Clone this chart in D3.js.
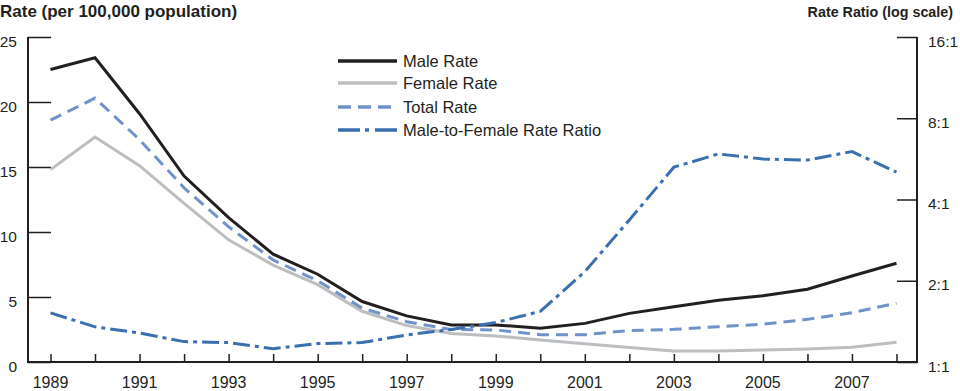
<!DOCTYPE html>
<html>
<head>
<meta charset="utf-8">
<script src="https://cdn.jsdelivr.net/npm/d3@7"></script>
<style>
  body { margin: 0; background: #fff; }
  svg { display: block; font-family: "Liberation Sans", Arial, sans-serif; }
</style>
</head>
<body>
<svg id="chart" width="960" height="391"></svg>
<script>
// data
var years = d3.range(1989, 2009)
var maleRate   = [22.5, 23.4, 19.1, 14.3, 11.1, 8.3, 6.75, 4.65, 3.55, 2.85, 2.85, 2.6, 2.97, 3.74, 4.25, 4.75, 5.1, 5.6, 6.62, 7.6]
var femaleRate = [14.8, 17.3, 15.1, 12.2, 9.4, 7.45, 5.95, 3.9, 2.8, 2.2, 2.0, 1.7, 1.4, 1.12, 0.85, 0.85, 0.92, 1.0, 1.13, 1.52]
var totalRate  = [18.6, 20.3, 17.1, 13.4, 10.4, 7.85, 6.25, 4.15, 3.1, 2.5, 2.46, 2.1, 2.1, 2.42, 2.51, 2.72, 2.9, 3.28, 3.79, 4.52]
var rateRatio  = [1.52, 1.35, 1.28, 1.19, 1.18, 1.12, 1.17, 1.18, 1.26, 1.32, 1.40, 1.54, 2.16, 3.36, 5.27, 5.9, 5.65, 5.6, 6.02, 5.05]

var leftTicks = [0, 5, 10, 15, 20, 25]
var rightTicks = [1, 2, 4, 8, 16]
var yearLabels = [1989, 1991, 1993, 1995, 1997, 1999, 2001, 2003, 2005, 2007]

var series = [
  { name: "Male Rate", values: maleRate, color: "#231f20", dash: null, axis: "left" },
  { name: "Female Rate", values: femaleRate, color: "#bcbec0", dash: null, axis: "left" },
  { name: "Total Rate", values: totalRate, color: "#6f93c8", dash: "12,7", axis: "left" },
  { name: "Male-to-Female Rate Ratio", values: rateRatio, color: "#3a6fb0", dash: "17,5,4,5", axis: "right" }
]

var svg = d3.select('#chart')

var x = d3.scaleLinear()
    .domain([1989, 2008])
    .range([50.5, 896.5])

var yL = d3.scaleLinear()
    .domain([0, 25])
    .range([362, 37])

var yR = d3.scaleLog()
    .base(2)
    .domain([1, 16])
    .range([362, 37])

// axes
var axisColor = "#231f20"

var gL = svg.append("g").attr("transform", "translate(28,0)")
gL.call(d3.axisRight(yL).tickValues(leftTicks).tickSize(23).tickFormat(""))
gL.select(".domain").remove()
gL.selectAll(".tick line").attr("stroke", axisColor).attr("stroke-width", 1.5)
gL.append("line").attr("y1", 37).attr("y2", 363).attr("stroke", axisColor).attr("stroke-width", 2)

svg.append("g").selectAll("text")
    .data(leftTicks)
    .enter().append("text")
      .attr("x", 17)
      .attr("y", function(d) { return yL(d) + 9.5 })
      .attr("text-anchor", "end")
      .attr("font-size", 15.5)
      .attr("fill", axisColor)
      .text(function(d) { return d })

var gR = svg.append("g").attr("transform", "translate(917,0)")
gR.call(d3.axisLeft(yR).tickValues(rightTicks).tickSize(20).tickFormat(""))
gR.select(".domain").remove()
gR.selectAll(".tick line").attr("stroke", axisColor).attr("stroke-width", 1.5)
gR.append("line").attr("y1", 37).attr("y2", 363).attr("stroke", axisColor).attr("stroke-width", 2)

svg.append("g").selectAll("text")
    .data(rightTicks)
    .enter().append("text")
      .attr("x", 928)
      .attr("y", function(d) { return yR(d) + 9.5 })
      .attr("font-size", 15.5)
      .attr("fill", axisColor)
      .text(function(d) { return d + ":1" })

var gB = svg.append("g").attr("transform", "translate(0,362)")
gB.call(d3.axisTop(x).tickValues(years).tickSize(8).tickFormat(""))
gB.select(".domain").remove()
gB.selectAll(".tick line").attr("stroke", axisColor).attr("stroke-width", 1.5)
gB.append("line").attr("x1", 27).attr("x2", 918).attr("stroke", axisColor).attr("stroke-width", 2)

svg.append("g").selectAll("text")
    .data(yearLabels)
    .enter().append("text")
      .attr("x", function(d) { return x(d) })
      .attr("y", 388)
      .attr("text-anchor", "middle")
      .attr("font-size", 16)
      .attr("fill", axisColor)
      .text(function(d) { return d })

// axis titles
svg.append("text")
    .attr("x", 0).attr("y", 17)
    .attr("font-size", 17).attr("font-weight", "bold")
    .attr("fill", axisColor)
    .text("Rate (per 100,000 population)")

svg.append("text")
    .attr("x", 953).attr("y", 17)
    .attr("text-anchor", "end")
    .attr("font-size", 14.3).attr("font-weight", "bold")
    .attr("fill", axisColor)
    .text("Rate Ratio (log scale)")

// lines
var lineL = d3.line()
    .x(function(d, i) { return x(years[i]) })
    .y(function(d) { return yL(d) })

var lineR = d3.line()
    .x(function(d, i) { return x(years[i]) })
    .y(function(d) { return yR(d) })

svg.append("g").selectAll("path")
    .data(series)
    .enter().append("path")
      .attr("d", function(s) { return s.axis == "left" ? lineL(s.values) : lineR(s.values) })
      .attr("fill", "none")
      .attr("stroke", function(s) { return s.color })
      .attr("stroke-width", 3)
      .attr("stroke-dasharray", function(s) { return s.dash })

// legend
var legendY = [61, 83, 107, 130]
var legend = svg.append("g").selectAll("g")
    .data(series)
    .enter().append("g")
      .attr("transform", function(d, i) { return "translate(0," + legendY[i] + ")" })

legend.append("line")
    .attr("x1", 338).attr("x2", 397)
    .attr("stroke", function(s) { return s.color })
    .attr("stroke-width", 3.5)
    .attr("stroke-dasharray", function(s, i) { return i == 2 ? "13,7" : (i == 3 ? "22,5,4,6" : null) })

legend.append("text")
    .attr("x", 403).attr("y", 6)
    .attr("font-size", 16.5)
    .attr("fill", axisColor)
    .text(function(s) { return s.name })
</script>
</body>
</html>
